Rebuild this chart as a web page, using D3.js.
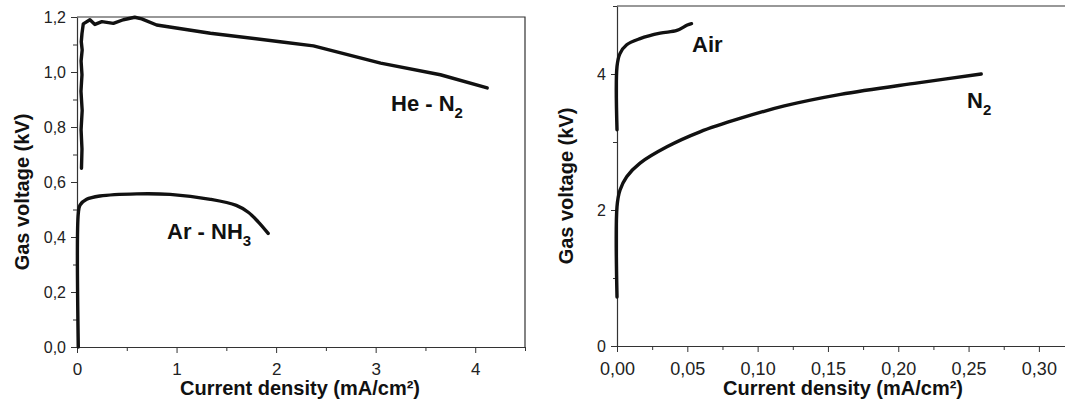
<!DOCTYPE html>
<html>
<head>
<meta charset="utf-8">
<script src="https://cdn.jsdelivr.net/npm/d3@7"></script>
<style>
  html, body { margin: 0; padding: 0; background: #fff; }
  svg { display: block; }
  .tick text { font-family: "Liberation Sans", Arial, sans-serif; fill: #222; }
  .title { font-family: "Liberation Sans", Arial, sans-serif; font-weight: bold; fill: #111; }
</style>
</head>
<body>
<svg id="chart" width="1065" height="410"></svg>
<script>
// ---- data: gas voltage (kV) vs current density (mA/cm²) ----
const heN2J = [0.045, 0.05, 0.041, 0.052, 0.04, 0.05, 0.041, 0.052, 0.043, 0.05, 0.063, 0.13, 0.18, 0.25, 0.365, 0.465, 0.58, 0.65, 0.80, 1.34, 2.04, 2.375, 3.05, 3.65, 4.12];
const heN2V = [0.65, 0.72, 0.79, 0.86, 0.93, 0.99, 1.04, 1.08, 1.11, 1.14, 1.175, 1.19, 1.173, 1.183, 1.177, 1.19, 1.199, 1.193, 1.171, 1.141, 1.11, 1.095, 1.032, 0.99, 0.942];

const arNH3J = [0.013, 0.013, 0.03, 0.097, 0.23, 0.60, 0.935, 1.34, 1.60, 1.72, 1.82, 1.92];
const arNH3V = [0.0, 0.486, 0.516, 0.537, 0.549, 0.557, 0.555, 0.537, 0.515, 0.49, 0.455, 0.413];

const n2J = [0.0, 0.0, 0.0021, 0.0069, 0.0164, 0.0355, 0.059, 0.088, 0.119, 0.159, 0.214, 0.259];
const n2V = [0.72, 2.05, 2.29, 2.49, 2.69, 2.93, 3.15, 3.35, 3.53, 3.70, 3.87, 4.0];

const airJ = [0.0, 0.0, 0.0021, 0.0069, 0.0164, 0.0307, 0.0426, 0.05, 0.053];
const airV = [3.18, 4.11, 4.30, 4.43, 4.52, 4.60, 4.64, 4.72, 4.74];

// ---- tick values ----
const leftXMajor = [0, 1, 2, 3, 4];
const leftXMinor = [0.5, 1.5, 2.5, 3.5, 4.5];
const leftYMajor = [0, 0.2, 0.4, 0.6, 0.8, 1.0, 1.2];
const leftYMinor = [0.1, 0.3, 0.5, 0.7, 0.9, 1.1];
const rightXMajor = [0, 0.05, 0.10, 0.15, 0.20, 0.25, 0.30];
const rightXMinor = [0.025, 0.075, 0.125, 0.175, 0.225, 0.275];
const rightYMajor = [0, 2, 4];
const rightYMinor = [1, 3, 5];

const xTitle = "Current density (mA/cm²)";
const yTitle = "Gas voltage (kV)";

const svg = d3.select("#chart");
svg.append("rect").attr("width", 1065).attr("height", 410).attr("fill", "#fff");

const locale = d3.formatLocale({ decimal: ",", thousands: ".", grouping: [3], currency: ["", ""] });

function zip(xs, ys) { return xs.map((x, i) => [x, ys[i]]); }

function panel(opts) {
  const g = svg.append("g");
  const x = d3.scaleLinear().domain(opts.xDomain).range(opts.xRange);
  const y = d3.scaleLinear().domain(opts.yDomain).range(opts.yRange);

  // frame (top and right edges)
  g.append("path")
    .attr("d", `M${x.range()[0]},${y.range()[1]}H${x.range()[1]}V${y.range()[0]}`)
    .attr("fill", "none").attr("stroke", "#333").attr("stroke-width", 1.2);

  // minor ticks
  const minorX = g.append("g").attr("transform", `translate(0,${y.range()[0]})`)
    .call(d3.axisBottom(x).tickValues(opts.xMinor).tickSize(4).tickFormat(""));
  const minorY = g.append("g").attr("transform", `translate(${x.range()[0]},0)`)
    .call(d3.axisLeft(y).tickValues(opts.yMinor).tickSize(4).tickFormat(""));
  [minorX, minorY].forEach(a => { a.select(".domain").remove(); a.selectAll("line").attr("stroke", "#333"); });

  // major ticks + labels
  const ax = g.append("g").attr("transform", `translate(0,${y.range()[0]})`)
    .call(d3.axisBottom(x).tickValues(opts.xMajor).tickSize(6).tickSizeOuter(0).tickPadding(10)
      .tickFormat(locale.format(opts.xFmt)));
  const ay = g.append("g").attr("transform", `translate(${x.range()[0]},0)`)
    .call(d3.axisLeft(y).tickValues(opts.yMajor).tickSize(6).tickSizeOuter(0).tickPadding(5)
      .tickFormat(locale.format(opts.yFmt)));
  [ax, ay].forEach(a => {
    a.select(".domain").attr("stroke", "#333").attr("stroke-width", 1.2);
    a.selectAll("line").attr("stroke", "#333");
  });
  ax.selectAll("text").style("font-size", opts.xTickSize + "px");
  ay.selectAll("text").style("font-size", opts.yTickSize + "px");

  // curves
  const smooth = d3.line().x(d => x(d[0])).y(d => y(d[1])).curve(d3.curveCatmullRom.alpha(0.5));
  const raw = d3.line().x(d => x(d[0])).y(d => y(d[1])).curve(d3.curveLinear);
  opts.series.forEach(s => {
    g.append("path")
      .attr("d", (s.raw ? raw : smooth)(zip(s.j, s.v)))
      .attr("fill", "none").attr("stroke", "#111").attr("stroke-width", 3.4)
      .attr("stroke-linejoin", "round").attr("stroke-linecap", "round");
  });

  // series labels
  opts.labels.forEach(l => {
    const t = g.append("text").attr("class", "title")
      .attr("x", l.x).attr("y", l.y).style("font-size", "22px");
    t.append("tspan").text(l.text);
    if (l.sub) t.append("tspan").attr("dy", 7).style("font-size", "15px").text(l.sub);
  });

  // axis titles
  g.append("text").attr("class", "title")
    .attr("x", opts.xTitlePos[0]).attr("y", opts.xTitlePos[1])
    .attr("text-anchor", "middle").style("font-size", "20px").text(xTitle);
  g.append("text").attr("class", "title")
    .attr("transform", `translate(${opts.yTitlePos[0]},${opts.yTitlePos[1]}) rotate(-90)`)
    .attr("text-anchor", "middle").style("font-size", "20px").text(yTitle);
}

// left panel: He - N2 and Ar - NH3
panel({
  xDomain: [0, 4.5], xRange: [77, 525],
  yDomain: [0, 1.2], yRange: [347, 17],
  xMajor: leftXMajor, xMinor: leftXMinor, yMajor: leftYMajor, yMinor: leftYMinor,
  xFmt: "d", yFmt: ".1f", xTickSize: 17, yTickSize: 16,
  series: [
    { j: heN2J, v: heN2V, raw: true },
    { j: arNH3J, v: arNH3V }
  ],
  labels: [
    { text: "He - N", sub: "2", x: 391, y: 111 },
    { text: "Ar - NH", sub: "3", x: 167, y: 239 }
  ],
  xTitlePos: [300, 395], yTitlePos: [29, 192]
});

// right panel: Air and N2
panel({
  xDomain: [0, 0.32], xRange: [617, 1067],
  yDomain: [0, 5], yRange: [346, 6],
  xMajor: rightXMajor, xMinor: rightXMinor, yMajor: rightYMajor, yMinor: rightYMinor,
  xFmt: ".2f", yFmt: "d", xTickSize: 18, yTickSize: 16,
  series: [
    { j: n2J, v: n2V },
    { j: airJ, v: airV }
  ],
  labels: [
    { text: "Air", x: 692, y: 52 },
    { text: "N", sub: "2", x: 967, y: 108 }
  ],
  xTitlePos: [843, 395], yTitlePos: [573, 186]
});
</script>
</body>
</html>
